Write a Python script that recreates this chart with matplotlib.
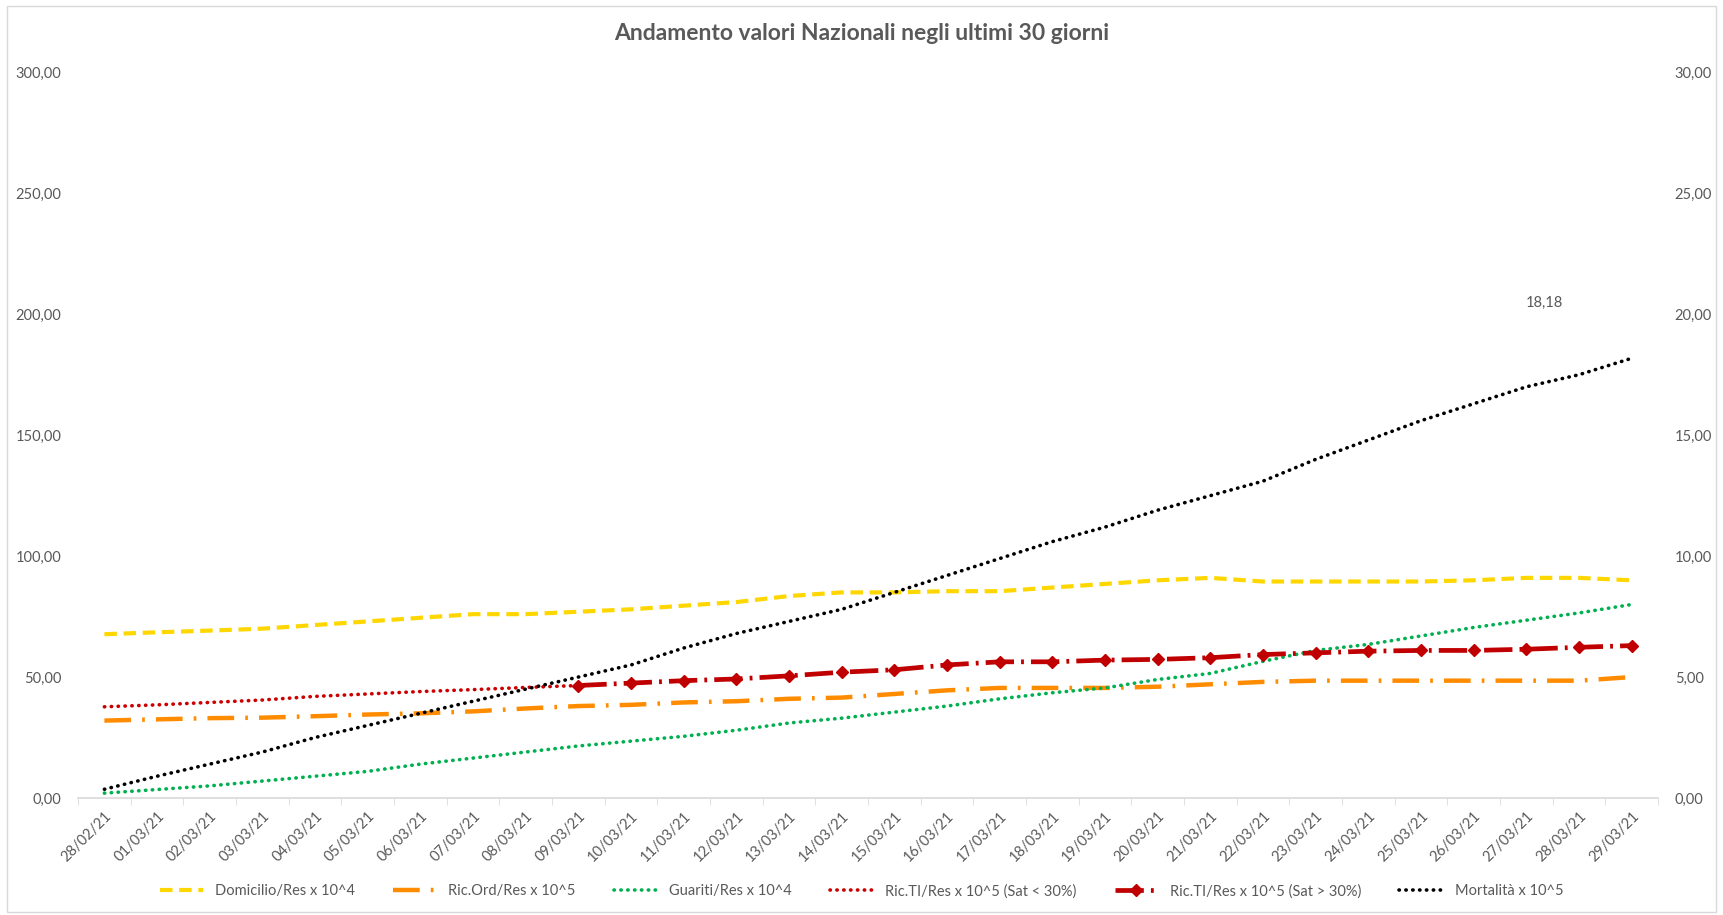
import matplotlib.pyplot as plt
from matplotlib.patches import Rectangle
from matplotlib.ticker import FuncFormatter, FixedLocator

# Data
dates = ["28/02/21", "01/03/21", "02/03/21", "03/03/21", "04/03/21", "05/03/21",
         "06/03/21", "07/03/21", "08/03/21", "09/03/21", "10/03/21", "11/03/21",
         "12/03/21", "13/03/21", "14/03/21", "15/03/21", "16/03/21", "17/03/21",
         "18/03/21", "19/03/21", "20/03/21", "21/03/21", "22/03/21", "23/03/21",
         "24/03/21", "25/03/21", "26/03/21", "27/03/21", "28/03/21", "29/03/21"]

domicilio = [67.7, 68.5, 69.2, 70.0, 71.5, 73.0, 74.5, 76.0, 76.0, 77.0,
             78.0, 79.5, 81.0, 83.5, 85.0, 85.0, 85.5, 85.5, 87.0, 88.5,
             90.0, 91.0, 89.5, 89.5, 89.5, 89.5, 90.0, 91.0, 91.0, 90.0]

ric_ord = [32.0, 32.5, 33.0, 33.2, 33.8, 34.5, 35.0, 35.8, 37.0, 38.0,
           38.5, 39.5, 40.0, 41.0, 41.5, 43.0, 44.5, 45.5, 45.5, 45.5,
           46.0, 47.0, 48.0, 48.5, 48.5, 48.5, 48.5, 48.5, 48.5, 50.0]

guariti = [2.0, 3.5, 5.0, 7.0, 9.0, 11.0, 14.0, 16.5, 19.0, 21.5,
           23.5, 25.5, 28.0, 31.0, 33.0, 35.5, 38.0, 41.0, 43.5, 45.5,
           49.0, 51.5, 56.5, 61.0, 63.5, 67.0, 70.5, 73.5, 76.5, 80.0]

# Ric.TI split by saturation: below 30% until 09/03, above from 09/03
ti_low = [37.7, 38.5, 39.5, 40.5, 42.0, 43.0, 44.0, 44.8, 45.7, 46.5]
ti_high = [46.5, 47.5, 48.5, 49.2, 50.5, 52.0, 53.0, 55.0, 56.3, 56.3,
           57.0, 57.3, 58.0, 59.3, 60.0, 60.7, 61.0, 61.0, 61.5, 62.3, 63.0]

mortalita = [0.36, 0.9, 1.4, 1.9, 2.5, 3.0, 3.5, 4.0, 4.5, 5.0,
             5.5, 6.2, 6.8, 7.3, 7.8, 8.5, 9.2, 9.9, 10.6, 11.2,
             11.9, 12.5, 13.1, 14.0, 14.8, 15.6, 16.3, 17.0, 17.5, 18.18]

x = list(range(len(dates)))
x_low = x[:len(ti_low)]
x_high = x[len(dates) - len(ti_high):]

grey = "#595959"
plt.rcParams['font.family'] = ['Lato', 'DejaVu Sans']

fig = plt.figure(figsize=(17.23, 9.15), dpi=100)
ax = fig.add_axes([0.0453, 0.1279, 0.917, 0.793])
ax2 = ax.twinx()

# chart border
fig.patches.append(Rectangle((0.004, 0.003), 0.992, 0.99, transform=fig.transFigure,
                             fill=False, edgecolor="#D9D9D9", linewidth=1))

dots = (0, (0.1, 1.8))
l1, = ax.plot(x, domicilio, color="#FFD700", linewidth=3.0, dashes=(3, 1.6),
              label="Domicilio/Res x 10^4")
l2, = ax.plot(x, ric_ord, color="#FF8C00", linewidth=3.2, dashes=(6, 2.5, 0.6, 2.5),
              label="Ric.Ord/Res x 10^5")
l3, = ax.plot(x, guariti, color="#00B050", linewidth=2.6, linestyle=dots,
              dash_capstyle="round", label="Guariti/Res x 10^4")
l4, = ax.plot(x_low, ti_low, color="#CC0000", linewidth=2.6, linestyle=dots,
              dash_capstyle="round", label="Ric.TI/Res x 10^5 (Sat < 30%)")
l5, = ax.plot(x_high, ti_high, color="#C00000", linewidth=3.4, dashes=(6, 1.5, 0.6, 1.5),
              marker="D", markersize=6, label="Ric.TI/Res x 10^5 (Sat > 30%)")
l6, = ax2.plot(x, mortalita, color="black", linewidth=2.6, linestyle=dots,
               dash_capstyle="round", label="Mortalità x 10^5")

ax2.annotate("18,18", xy=(x[-1], mortalita[-1]), xytext=(-63, 40),
             textcoords="offset points", ha="center", va="center",
             fontsize=10.5, color=grey)

ax.set_xlim(-0.5, len(dates) - 0.5)
ax.set_ylim(0, 300)
ax2.set_ylim(0, 30)
ax.set_yticks(range(0, 301, 50))
ax2.set_yticks(range(0, 31, 5))

fmt = FuncFormatter(lambda v, p: f"{v:.2f}".replace(".", ","))
ax.yaxis.set_major_formatter(fmt)
ax2.yaxis.set_major_formatter(fmt)

ax.set_xticks(x)
ax.set_xticklabels(dates, rotation=45, ha="right", rotation_mode="anchor")
ax.xaxis.set_minor_locator(FixedLocator([i - 0.5 for i in range(len(dates) + 1)]))
ax.tick_params(axis="x", which="major", length=0, pad=8, labelsize=10.5, labelcolor=grey)
ax.tick_params(axis="x", which="minor", length=5, color="#D9D9D9")
ax.tick_params(axis="y", length=0, labelsize=10.5, labelcolor=grey, pad=12)
ax2.tick_params(axis="y", length=0, labelsize=10.5, labelcolor=grey, pad=12)

for a in (ax, ax2):
    for s in ("top", "left", "right"):
        a.spines[s].set_visible(False)
ax2.spines["bottom"].set_visible(False)
ax.spines["bottom"].set_color("#D9D9D9")
ax.spines["bottom"].set_linewidth(1.2)

fig.text(0.5, 0.963, "Andamento valori Nazionali negli ultimi 30 giorni",
         ha="center", va="center", fontsize=16.5, fontweight="bold", color=grey)

fig.legend(handles=[l1, l2, l3, l4, l5, l6], loc="center", bbox_to_anchor=(0.5, 0.026),
           ncol=6, frameon=False, fontsize=10.5, labelcolor=grey,
           handlelength=3.0, columnspacing=2.6)

fig.savefig("out.png", dpi=100)
